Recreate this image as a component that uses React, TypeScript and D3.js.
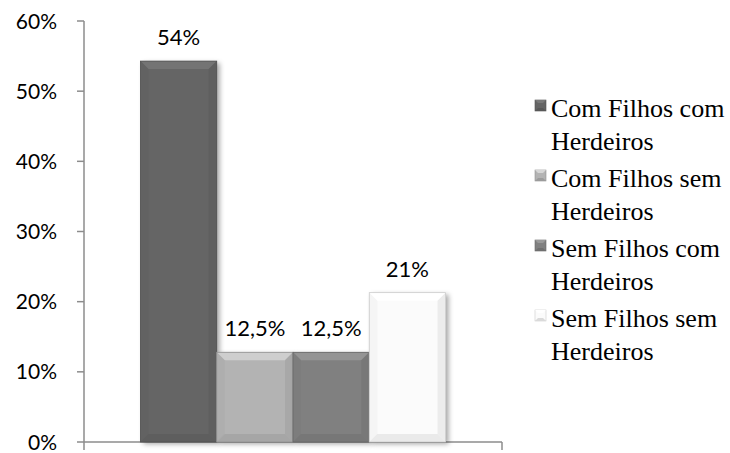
import React from 'react';
import * as d3 from 'd3';

// chart values
const series = ['Com Filhos com Herdeiros', 'Com Filhos sem Herdeiros', 'Sem Filhos com Herdeiros', 'Sem Filhos sem Herdeiros'];
const values = [0.54, 0.125, 0.125, 0.21];
const legendLines = [['Com Filhos com', 'Herdeiros'], ['Com Filhos sem', 'Herdeiros'], ['Sem Filhos com', 'Herdeiros'], ['Sem Filhos sem', 'Herdeiros']];
const yTicks = [0, 0.1, 0.2, 0.3, 0.4, 0.5, 0.6];
const fills = ['#656565', '#b3b3b3', '#808080', '#fbfbfb'];

const W = 730;
const H = 453;
const margin = { left: 84, right: 228, top: 21, bottom: 11 };
const plotRight = W - margin.right;
const baseY = H - margin.bottom;

const sansFont = "'Lato', 'Open Sans', sans-serif";
const serifFont = "'Liberation Serif', 'Times New Roman', serif";

const y = d3.scaleLinear().domain([0, 0.6]).range([baseY, margin.top]);
const x = d3.scaleBand<string>().domain(series).range([margin.left, plotRight]).paddingInner(0).paddingOuter(0.74);
const pt = d3.formatLocale({ decimal: ',', thousands: '.', grouping: [3], currency: ['', ''] }).format('~%');
const tickFmt = d3.format('.0%');

function Bar({ i }: { i: number }) {
	const bw = x.bandwidth();
	const bevel = 8;
	const x0 = x(series[i]) as number;
	const x1 = x0 + bw;
	const y0 = y(values[i]) - 2;
	const y1 = baseY;
	const c = d3.color(fills[i]) as d3.RGBColor;
	return (
		<g>
			<rect x={x0} y={y0} width={bw} height={y1 - y0} fill={fills[i]} filter="url(#shadow)" />
			{/* top highlight */}
			<polygon points={`${x0},${y0} ${x1},${y0} ${x1 - bevel},${y0 + bevel} ${x0 + bevel},${y0 + bevel}`} fill={c.brighter(0.4).toString()} />
			<polygon points={`${x0},${y0} ${x0 + bevel},${y0 + bevel} ${x0 + bevel},${y1 - bevel} ${x0},${y1}`} fill={c.darker(0.1).toString()} opacity={0.7} />
			<polygon points={`${x1},${y0} ${x1 - bevel},${y0 + bevel} ${x1 - bevel},${y1 - bevel} ${x1},${y1}`} fill={c.darker(0.25).toString()} opacity={0.7} />
			<polygon points={`${x0},${y1} ${x0 + bevel},${y1 - bevel} ${x1 - bevel},${y1 - bevel} ${x1},${y1}`} fill={c.darker(0.3).toString()} opacity={0.7} />
			<rect x={x0} y={y0} width={bw} height={y1 - y0} fill="none" stroke={c.darker(0.6).toString()} strokeWidth={0.8} />
			<text x={x0 + bw / 2} y={y0 - 16} textAnchor="middle" fontSize={22} fill="#000" style={{ fontFamily: sansFont }}>
				{pt(values[i])}
			</text>
		</g>
	);
}

function LegendItem({ i }: { i: number }) {
	const c = d3.color(fills[i]) as d3.RGBColor;
	const m = 11;
	return (
		<g transform={`translate(535,${100 + i * 70})`}>
			<rect x={0} y={0} width={m} height={m} fill={fills[i]} stroke={c.darker(0.6).toString()} strokeWidth={0.6} />
			<polygon points={`0,0 ${m},0 ${m - 3},3 3,3`} fill={c.brighter(0.5).toString()} />
			<polygon points={`0,${m} ${m},${m} ${m - 3},${m - 3} 3,${m - 3}`} fill={c.darker(0.4).toString()} />
			{legendLines[i].map((t, j) => (
				<text key={j} x={16} y={17 + j * 33} fontSize={26} fill="#000" style={{ fontFamily: serifFont }}>{t}</text>
			))}
		</g>
	);
}

export default function App() {
	return (
		<svg width={W} height={H} style={{ position: 'absolute', left: 0, top: 0 }}>
			<defs>
				<filter id="shadow" x="-20%" y="-20%" width="150%" height="150%">
					<feDropShadow dx={3} dy={2} stdDeviation={2.5} floodColor="#000" floodOpacity={0.35} />
				</filter>
			</defs>
			<g stroke="#8c8c8c" strokeWidth={1.5} fill="none">
				<line x1={margin.left} x2={margin.left} y1={y(0.6)} y2={baseY + 8} />
				<line x1={margin.left} x2={plotRight} y1={baseY} y2={baseY} />
				<line x1={plotRight} x2={plotRight} y1={baseY} y2={baseY + 8} />
				{yTicks.map(d => (
					<line key={d} x1={margin.left - 7} x2={margin.left} y1={y(d)} y2={y(d)} />
				))}
			</g>
			<g>
				{yTicks.map(d => (
					<text key={d} x={57} y={y(d)} dy="0.36em" textAnchor="end" fontSize={21} fill="#000" style={{ fontFamily: sansFont }}>
						{tickFmt(d)}
					</text>
				))}
			</g>
			<g>
				{series.map((s, i) => <Bar key={s} i={i} />)}
			</g>
			<g>
				{series.map((s, i) => <LegendItem key={s} i={i} />)}
			</g>
		</svg>
	);
}
